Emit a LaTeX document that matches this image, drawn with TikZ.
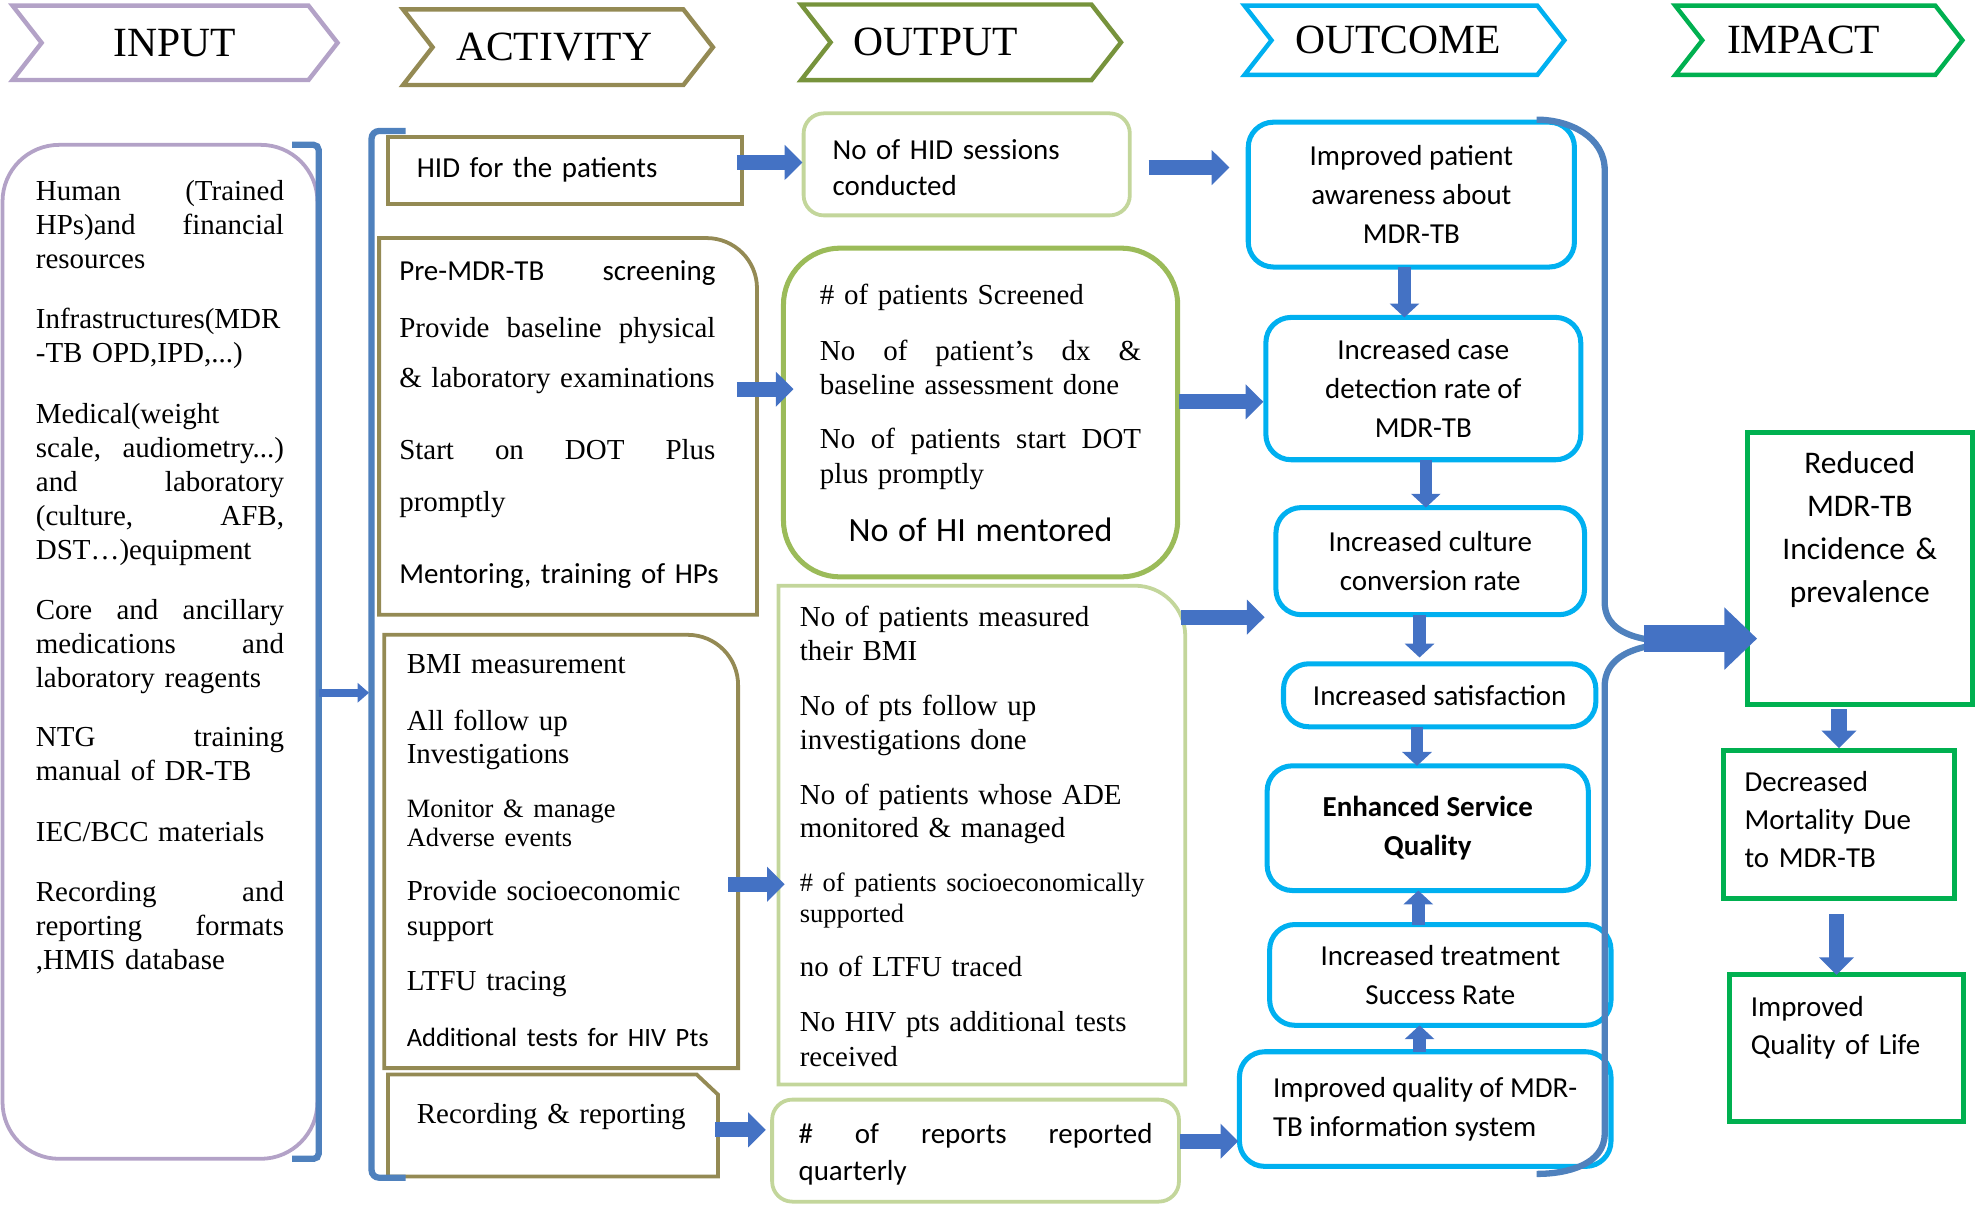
\documentclass[tikz,border=0pt]{standalone}
\usepackage{fontspec}
\setmainfont{Liberation Serif}
\newfontfamily\calibri{Carlito}
\usetikzlibrary{arrows.meta, shapes.symbols}
\definecolor{inputc}{HTML}{B3A2C7}
\definecolor{activc}{HTML}{948A54}
\definecolor{outhead}{HTML}{77933C}
\definecolor{outmid}{HTML}{9BBB59}
\definecolor{outlite}{HTML}{C3D69B}
\definecolor{outcc}{HTML}{00B0F0}
\definecolor{impc}{HTML}{00B050}
\definecolor{bracec}{HTML}{4F81BD}
\definecolor{arrowc}{HTML}{4472C4}
\newcommand{\smallbody}{\fontsize{21}{27}\selectfont}

\begin{document}
\begin{tikzpicture}[x=1pt, y=1pt, every node/.style={outer sep=0pt},
  hdr/.style={signal, signal to=east, signal from=west, signal pointer angle=104,
              line width=3.5pt, inner sep=0pt, font=\fontsize{33}{33}\selectfont},
  bodytext/.style={font=\fontsize{23}{27}\selectfont},
  boxtext/.style={anchor=north west, inner ysep=0pt, align=left},
  actline/.style={draw=activc, line width=3pt},
  ocbox/.style={draw=outcc, line width=4pt, rounded corners=20pt, inner sep=0pt,
                align=center, font=\calibri\fontsize{23}{31}\selectfont},
  impbox/.style={draw=impc, line width=4pt, anchor=north west, inner ysep=0pt,
                 font=\calibri\fontsize{23}{30.5}\selectfont},
  brace/.style={draw=bracec, line width=5pt},
  blk/.style={draw=arrowc, line width=12pt, -{Triangle[width=27pt,length=14pt]}},
  blkv/.style={draw=arrowc, line width=10pt, -{Triangle[width=23pt,length=11pt]}},
  blkbig/.style={draw=arrowc, line width=22pt, -{Triangle[width=48pt,length=26pt]}},
  blksmall/.style={draw=arrowc, line width=6pt, -{Triangle[width=15pt,length=9pt]}}]
  \useasboundingbox (0,0) rectangle (1568,-960);

  % column heads
  \node[hdr, draw=inputc, minimum width=258pt, minimum height=59pt] (hInput) at (139,-34) {INPUT};
  \node[hdr, draw=activc, minimum width=246pt, minimum height=60pt] (hActivity) at (443,-37.5) {ACTIVITY\hspace*{6pt}};
  \node[hdr, draw=outhead, minimum width=254pt, minimum height=60pt] (hOutput) at (763,-33.6) {OUTPUT\hspace*{40pt}};
  \node[hdr, draw=outcc, minimum width=254pt, minimum height=55pt] (hOutcome) at (1115,-32) {OUTCOME\hspace*{10pt}};
  \node[hdr, draw=impc, minimum width=228pt, minimum height=55pt] (hImpact) at (1444,-32) {IMPACT\hspace*{24pt}};

  % input
  \node[boxtext, bodytext, draw=inputc, line width=3pt, rounded corners=45pt, text width=197pt,
        inner xsep=26.5pt, text height=44pt, text depth=761pt] (inp) at (2,-115)
    {Human \hfill (Trained\\
     HPs)and \hfill financial\\
     resources\\[21pt]
     Infrastructures(MDR\\
     -TB OPD,IPD,...)\\[21pt]
     Medical(weight\\
     scale, \hfill audiometry...)\\
     and \hfill laboratory\\
     (culture, \hfill AFB,\\
     DST…)equipment\\[21pt]
     Core \hfill and \hfill ancillary\\
     medications \hfill and\\
     laboratory reagents\\[20pt]
     NTG \hfill training\\
     manual of DR-TB\\[21pt]
     IEC/BCC materials\\[21pt]
     Recording \hfill and\\
     reporting \hfill formats\\
     ,HMIS database};

  % activity
  \node[boxtext, actline, font=\calibri\fontsize{23}{27}\selectfont, text width=235pt,
        inner xsep=23pt, text height=32pt, text depth=21pt] (A1) at (308,-109)
    {HID for the patients};
  \node[boxtext, bodytext, text width=268pt, inner xsep=16pt,
        text height=34pt, text depth=265pt] (A2) at (301,-189)
    {\rightskip=17pt
     {\calibri Pre-MDR-TB \hfill screening}\\[18pt]
     Provide \hfill baseline \hfill physical\\[13pt]
     \& laboratory examinations\\[30pt]
     Start \hfill on \hfill DOT \hfill Plus\\[14pt]
     promptly\\[30pt]
     {\calibri Mentoring, training of HPs}};
  \draw[actline] (A2.south west) -- (A2.north west) -- ([xshift=-40pt]A2.north east)
    arc[start angle=90, end angle=0, radius=40pt] -- (A2.south east) -- cycle;
  \node[boxtext, bodytext, text width=245pt, inner xsep=18pt,
        text height=31pt, text depth=313pt] (A3) at (305,-504)
    {BMI measurement\\[18pt]
     All follow up\\[-1pt]
     Investigations\\[16pt]
     {\smallbody Monitor \& manage}\\[-4pt]
     {\smallbody Adverse events}\\[16pt]
     Provide socioeconomic\\[1pt]
     support\\[16pt]
     LTFU tracing\\[18pt]
     {\calibri\smallbody Additional tests for HIV Pts}};
  \draw[actline] (A3.south west) -- (A3.north west) -- ([xshift=-40pt]A3.north east)
    arc[start angle=90, end angle=0, radius=40pt] -- (A3.south east) -- cycle;
  \node[boxtext, bodytext, text width=216pt, inner xsep=23pt,
        text height=39pt, text depth=42pt] (A4) at (308,-853)
    {Recording \& reporting};
  \draw[actline] (A4.south west) -- (A4.north west) -- ([xshift=-17pt]A4.north east)
    -- ([yshift=-16pt]A4.north east) -- (A4.south east) -- cycle;

  % output
  \node[boxtext, draw=outlite, line width=3pt, rounded corners=16pt,
        font=\calibri\fontsize{23}{28}\selectfont, text width=213pt, inner xsep=23pt,
        text height=37pt, text depth=44pt] (O1) at (638,-90)
    {No of HID sessions\\conducted};
  \node[boxtext, bodytext, draw=outmid, line width=4pt, rounded corners=45pt,
        text width=255pt, inner xsep=29pt, text height=45pt, text depth=216pt] (O2) at (622,-197)
    {\# of patients Screened\\[17pt]
     No \hfill of \hfill patient’s \hfill dx \hfill \&\\
     baseline assessment done\\[16pt]
     No \hfill of \hfill patients \hfill start \hfill DOT\\[1pt]
     plus promptly\\[19pt]
     \makebox[\linewidth]{\calibri\fontsize{27}{27}\selectfont No of HI mentored}};
  \node[boxtext, bodytext, text width=289pt, inner xsep=17pt,
        text height=32pt, text depth=364pt] (O3) at (618,-465)
    {No of patients measured\\
     their BMI\\[17pt]
     No of pts follow up\\
     investigations done\\[17pt]
     No of patients whose ADE\\[-1pt]
     monitored \& managed\\[16pt]
     {\smallbody \# of patients socioeconomically}\\[-3pt]
     {\smallbody supported}\\[16pt]
     no of LTFU traced\\[17pt]
     No HIV pts additional tests\\[1pt]
     received};
  \draw[draw=outlite, line width=3pt] (O3.south west) -- (O3.north west) -- ([xshift=-40pt]O3.north east)
    arc[start angle=90, end angle=0, radius=40pt] -- (O3.south east) -- cycle;
  \node[boxtext, draw=outlite, line width=3pt, rounded corners=16pt,
        font=\calibri\fontsize{23}{29}\selectfont, text width=281pt, inner xsep=21pt,
        text height=35pt, text depth=46pt] (O4) at (613,-873)
    {\# \hfill of \hfill reports \hfill reported\\quarterly};

  % outcome
  \node[ocbox, minimum width=259pt, minimum height=115pt] (C1) at (1120.5,-154.5)
    {Improved patient\\awareness about\\MDR-TB};
  \node[ocbox, minimum width=250pt, minimum height=113pt] (C2) at (1130,-308.5)
    {Increased case\\detection rate of\\MDR-TB};
  \node[ocbox, minimum width=245pt, minimum height=85pt] (C3) at (1135.5,-445.5)
    {Increased culture\\conversion rate};
  \node[ocbox, minimum width=248pt, minimum height=50pt] (C4) at (1143,-552)
    {Increased satisfaction};
  \node[ocbox, minimum width=255pt, minimum height=99pt,
        font=\calibri\bfseries\fontsize{23}{31}\selectfont] (C5) at (1133.5,-657.5)
    {Enhanced Service\\Quality};
  \node[ocbox, minimum width=271pt, minimum height=80pt] (C6) at (1143.5,-774)
    {Increased treatment\\Success Rate};
  \node[ocbox, align=left, minimum width=295pt, minimum height=91pt] (C7) at (1131.5,-880.5)
    {Improved quality of MDR-\\TB information system};

  % impact
  \node[impbox, align=center, text width=179pt, inner xsep=0pt, text height=33pt, text depth=183pt,
        font=\calibri\fontsize{25}{34}\selectfont] (I1) at (1387,-343)
    {Reduced\\MDR-TB\\Incidence \&\\prevalence};
  \node[impbox, align=left, text width=150pt, inner xsep=17pt, text height=32pt, text depth=85pt]
    (I2) at (1368,-596) {Decreased\\Mortality Due\\to MDR-TB};
  \node[impbox, align=left, text width=152pt, inner xsep=17pt, text height=33pt, text depth=83pt]
    (I3) at (1373,-774) {Improved\\Quality of Life};

  % brackets
  \coordinate (actTop) at (295,-104);
  \coordinate (actBot) at (295,-935);
  \coordinate (actIn) at (293,-550);
  \coordinate (ocTop) at (1220,-95);
  \coordinate (ocTip) at (1345,-510);
  \coordinate (ocBot) at (1220,-932);
  \draw[brace, rounded corners=4pt] ([xshift=-20pt]inp.north east) -- ([xshift=1pt]inp.north east)
    -- ([xshift=1pt]inp.south east) -- ([xshift=-20pt]inp.south east);
  \draw[brace, rounded corners=6pt] ([xshift=27pt]actTop) -- (actTop) -- (actBot) -- ([xshift=27pt]actBot);
  \draw[brace] (ocTop) to[out=0, in=90] (1274,-135) -- (1274,-478) to[out=-90, in=180] (ocTip);
  \draw[brace] (ocTip) to[out=180, in=90] (1274,-545) -- (1274,-900) to[out=-90, in=0] (ocBot);

  % arrows
  \draw[blksmall] ([xshift=1pt,yshift=-32.5pt]inp.east) -- (actIn);
  \draw[blk] ([xshift=-4pt,yshift=6.5pt]A1.east) -- ([xshift=-1pt,yshift=1.5pt]O1.west);
  \draw[blk] ([xshift=15pt,yshift=-2.5pt]O1.east) -- ([xshift=-15pt,yshift=21.5pt]C1.west);
  \draw[blk] ([xshift=-16pt,yshift=29.5pt]A2.east) -- ([xshift=8pt,yshift=18.5pt]O2.west);
  \draw[blk] ([xshift=1pt,yshift=8.5pt]O2.east) -- ([xshift=-2pt,yshift=-10.5pt]C2.west);
  \draw[blk] ([xshift=-3pt,yshift=-25pt]O3.north east) -- ([xshift=-9pt,yshift=-2pt]C3.south west);
  \draw[blk] ([xshift=-8pt,yshift=-26pt]A3.east) -- ([xshift=5pt,yshift=-39pt]O3.west);
  \draw[blk] ([xshift=-2pt,yshift=-3.5pt]A4.east) -- ([xshift=-5pt,yshift=16.5pt]O4.west);
  \draw[blk] ([xshift=1pt,yshift=7.5pt]O4.east) -- ([xshift=-1pt,yshift=-25.5pt]C7.west);

  \draw[blkv] ([xshift=-5.5pt]C1.south) -- ([xshift=-15pt]C2.north);
  \draw[blkv] ([xshift=2pt]C2.south) -- ([xshift=-3.5pt]C3.north);
  \draw[blkv] ([xshift=-8.5pt]C3.south) -- ([xshift=-16pt,yshift=5pt]C4.north);
  \draw[blkv] ([xshift=-18pt]C4.south) -- ([xshift=-8.5pt]C5.north);
  \draw[blkv] ([xshift=-17.5pt]C6.north) -- ([xshift=-7.5pt]C5.south);
  \draw[blkv] ([xshift=-4.5pt]C7.north) -- ([xshift=-16.5pt]C6.south);

  \draw[blkbig] ([xshift=-40pt,yshift=3pt]ocTip) -- ([xshift=8pt,yshift=-56pt]I1.west);
  \draw[blk] ([xshift=-16.5pt,yshift=-4pt]I1.south) -- ([yshift=2pt]I2.north);
  \draw[blk] ([xshift=-2pt,yshift=-13pt]I2.south) -- ([xshift=-8pt]I3.north);
\end{tikzpicture}
\end{document}
